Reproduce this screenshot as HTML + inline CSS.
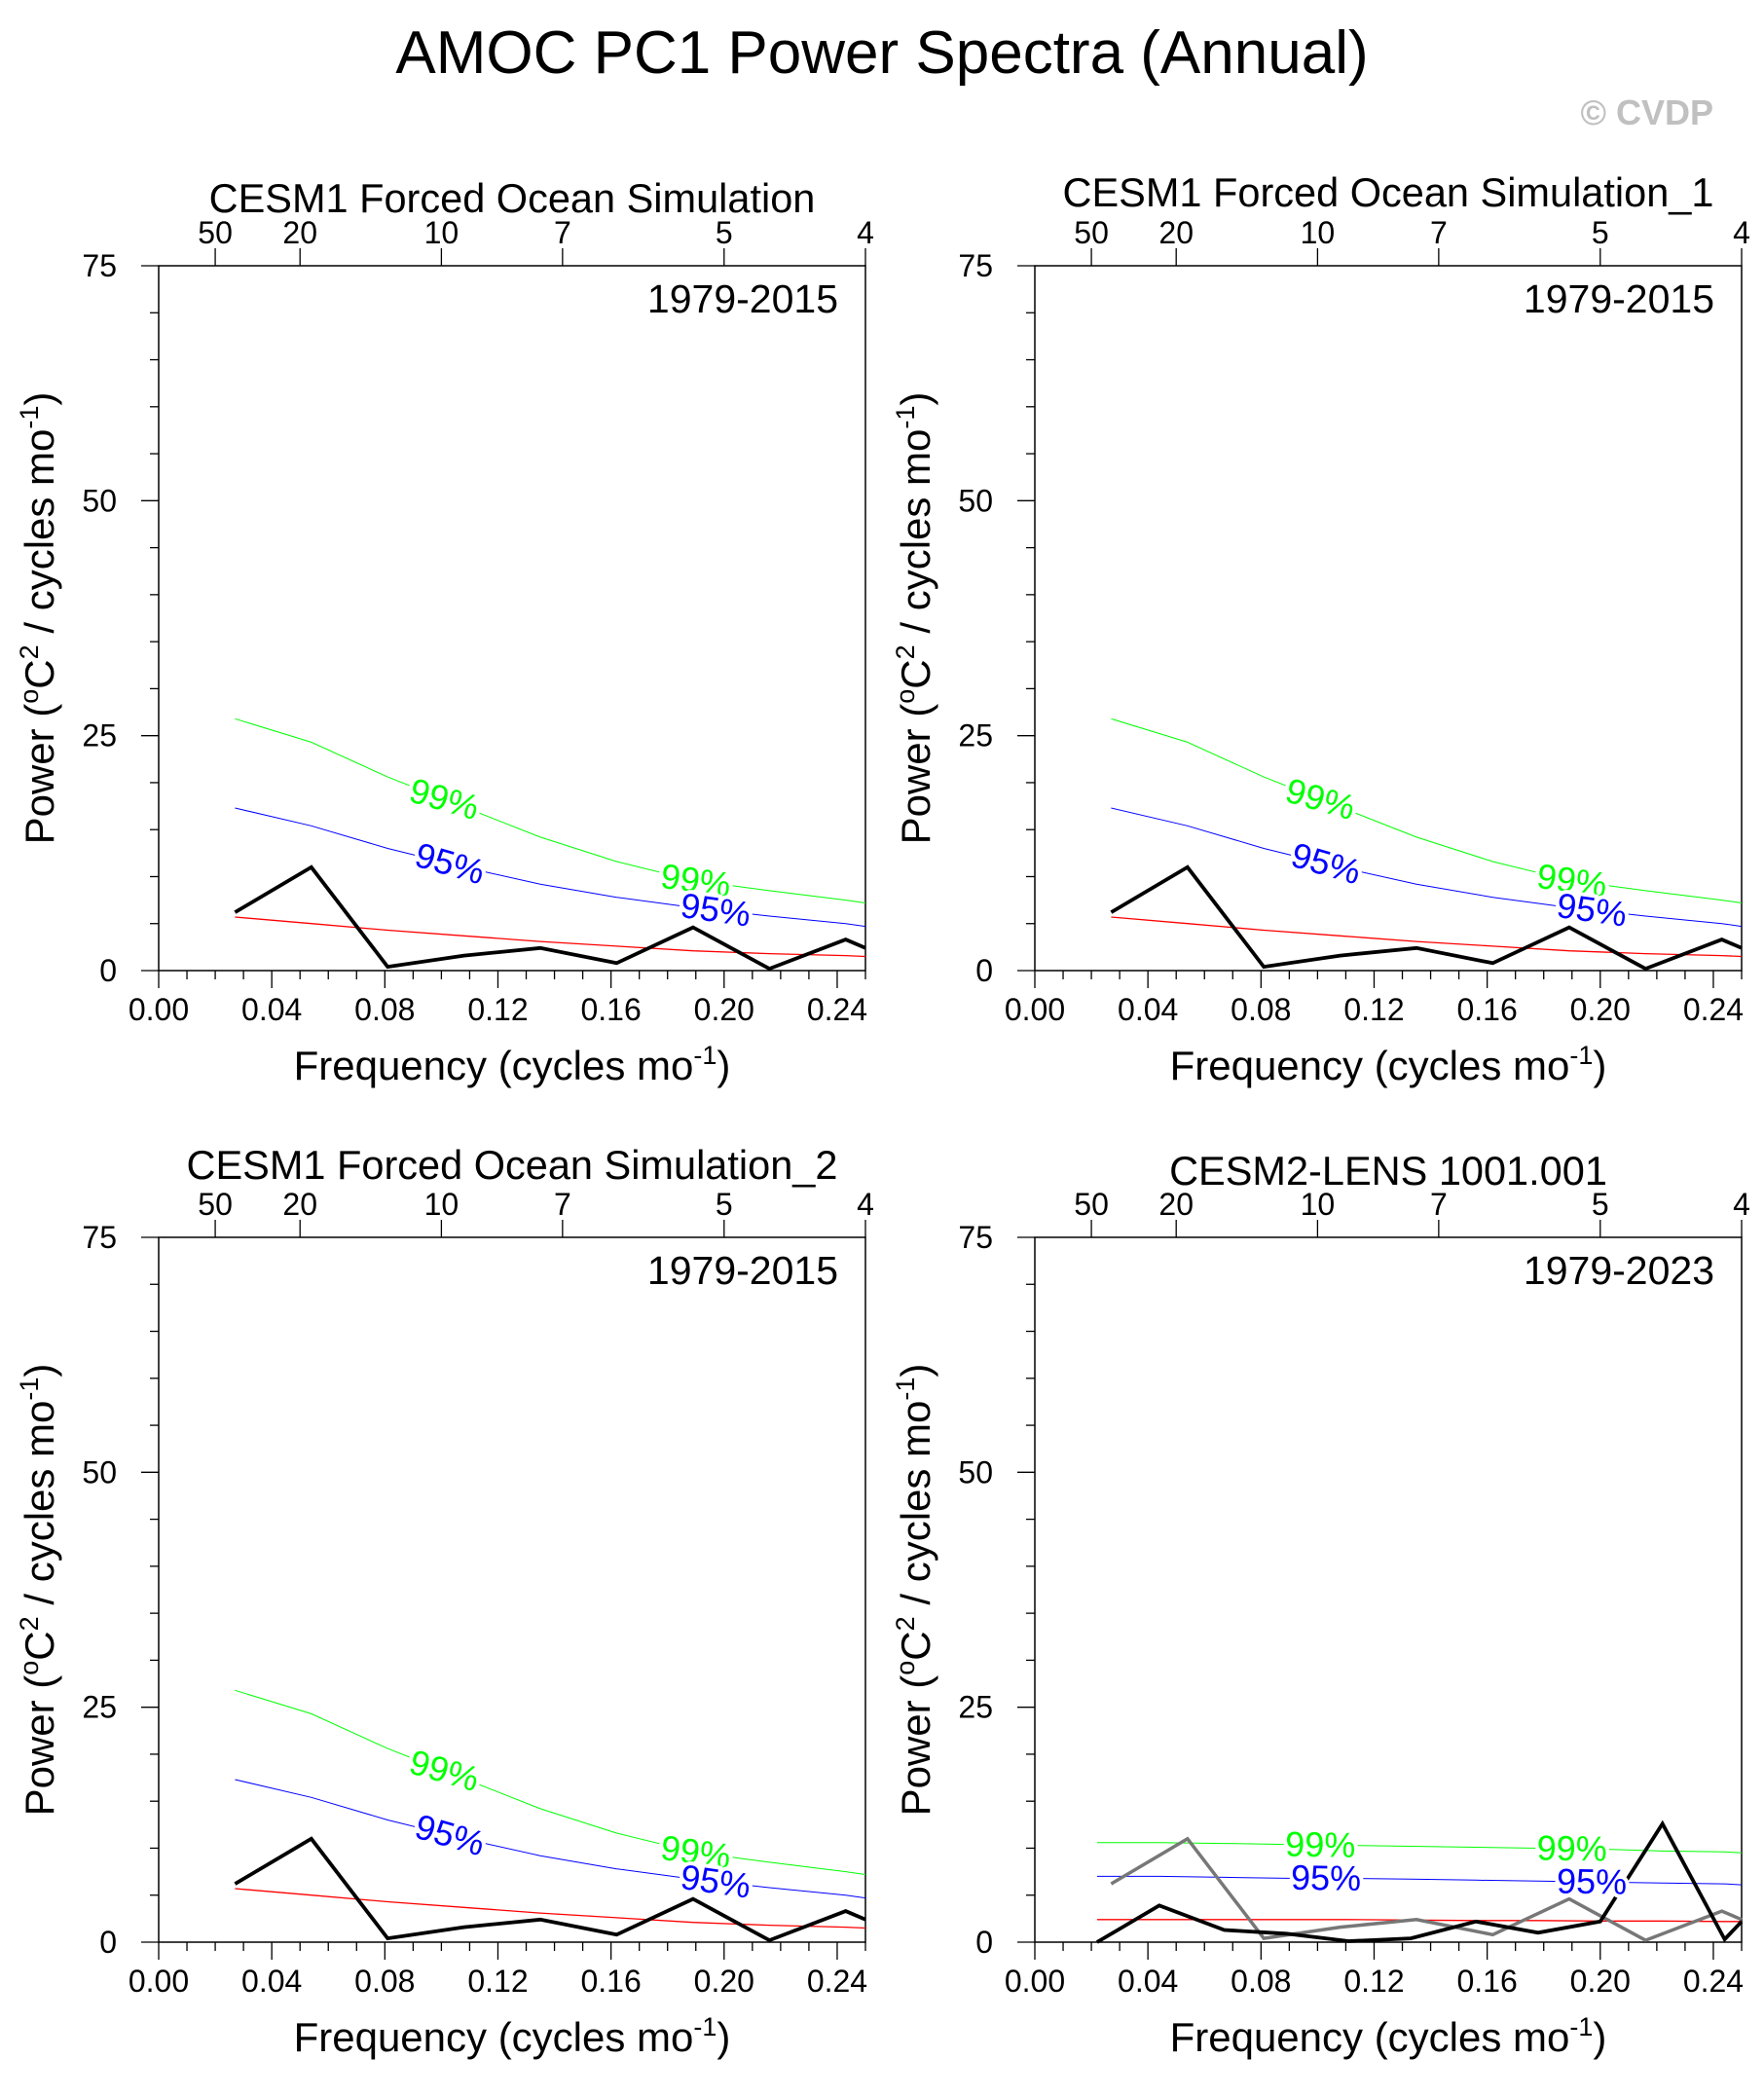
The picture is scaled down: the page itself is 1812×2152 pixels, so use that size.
<!DOCTYPE html>
<html><head><meta charset="utf-8"><style>
html,body{margin:0;padding:0;background:#fff}
svg text{font-family:"Liberation Sans",sans-serif}
</style></head><body>
<svg id="root" width="1812" height="2147" viewBox="0 0 1812 2147" xmlns="http://www.w3.org/2000/svg">
<text x="906" y="75" font-size="62" text-anchor="middle">AMOC PC1 Power Spectra (Annual)</text>
<text x="1760" y="128" font-size="36" font-weight="bold" fill="#c0c0c0" text-anchor="end">© CVDP</text>
</svg>
<script>
// ---- data ----
const freq37 = [0.027, 0.054, 0.081, 0.108, 0.135, 0.162, 0.189, 0.216, 0.243, 0.25];
const power37 = [6.2, 11.0, 0.4, 1.6, 2.4, 0.8, 4.6, 0.2, 3.3, 2.4];
const red37 = [5.7, 5.0, 4.3, 3.7, 3.1, 2.6, 2.1, 1.8, 1.6, 1.5];
const sig95_37 = [17.3, 15.4, 13.0, 11.0, 9.2, 7.8, 6.7, 5.8, 5.0, 4.7];
const sig99_37 = [26.8, 24.3, 20.6, 17.4, 14.2, 11.6, 9.6, 8.5, 7.5, 7.2];
const freq45 = [0.022, 0.044, 0.067, 0.089, 0.111, 0.133, 0.156, 0.178, 0.200, 0.222, 0.244, 0.25];
const power45 = [0.0, 3.9, 1.3, 0.9, 0.1, 0.4, 2.2, 1.0, 2.2, 12.6, 0.3, 2.2];
const red45 = [2.4, 2.4, 2.4, 2.4, 2.4, 2.35, 2.3, 2.3, 2.25, 2.25, 2.2, 2.2];
const sig95_45 = [7.0, 7.0, 6.9, 6.8, 6.8, 6.7, 6.6, 6.5, 6.4, 6.3, 6.2, 6.1];
const sig99_45 = [10.6, 10.6, 10.5, 10.4, 10.3, 10.2, 10.1, 10.0, 9.9, 9.7, 9.6, 9.5];
const xTicks = [0.00, 0.04, 0.08, 0.12, 0.16, 0.20, 0.24];
const yTicks = [0, 25, 50, 75];
const periodTicks = [50, 20, 10, 7, 5, 4];

const panels = [
 {name:'panel-cesm1', title:'CESM1 Forced Ocean Simulation', years:'1979-2015', x:163, y:273, ty:218, f:freq37, p:power37, r:red37, s95:sig95_37, s99:sig99_37, gray:null, rot:[16,8]},
 {name:'panel-cesm1-1', title:'CESM1 Forced Ocean Simulation_1', years:'1979-2015', x:1063, y:273, ty:212, f:freq37, p:power37, r:red37, s95:sig95_37, s99:sig99_37, gray:null, rot:[16,8]},
 {name:'panel-cesm1-2', title:'CESM1 Forced Ocean Simulation_2', years:'1979-2015', x:163, y:1271, ty:1211, f:freq37, p:power37, r:red37, s95:sig95_37, s99:sig99_37, gray:null, rot:[16,8]},
 {name:'panel-cesm2-lens', title:'CESM2-LENS 1001.001', years:'1979-2023', x:1063, y:1271, ty:1217, f:freq45, p:power45, r:red45, s95:sig95_45, s99:sig99_45, gray:true, rot:[1,1]}
];
const W = 726, H = 724, XMAX = 0.25, YMAX = 75;
const NS = 'http://www.w3.org/2000/svg';
const root = document.getElementById('root');
function mk(tag, attrs, parent, txt){
  const e = document.createElementNS(NS, tag);
  for (const k in attrs) e.setAttribute(k, attrs[k]);
  if (txt !== undefined) e.textContent = txt;
  parent.appendChild(e); return e;
}
function interp(fs, vs, f){
  for (let i=0;i<fs.length-1;i++){ if (f>=fs[i] && f<=fs[i+1]) return vs[i]+(vs[i+1]-vs[i])*(f-fs[i])/(fs[i+1]-fs[i]); }
  return vs[vs.length-1];
}
panels.forEach(P => {
  const g = mk('g', {}, root);
  
  
  const sx = f => P.x + f / XMAX * W;
  const sy = v => P.y + H - v / YMAX * H;
  const t = mk('text', {x:P.x + W/2, y:P.ty, 'font-size':41.5, 'text-anchor':'middle'}, g, P.title);
  
  
  const fr = mk('rect', {x:P.x, y:P.y, width:W, height:H, fill:'none', stroke:'#000', 'stroke-width':1.5}, g);
  
  
  for (let i=0;i<=25;i++){
    const f = i*0.01, major = (i%4===0);
    mk('line', {x1:sx(f), x2:sx(f), y1:P.y+H, y2:P.y+H+(major?18:9), stroke:'#000', 'stroke-width':1.3}, g);
  }
  xTicks.forEach(v => {
    const e = mk('text', {x:sx(v), y:P.y+H+51, 'font-size':32, 'text-anchor':'middle'}, g, v.toFixed(2));
    
    
  });
  for (let v=0; v<=75; v+=5){
    const major = (v%25===0);
    mk('line', {x1:P.x, x2:P.x-(major?18:9), y1:sy(v), y2:sy(v), stroke:'#000', 'stroke-width':1.3}, g);
  }
  yTicks.forEach(v => {
    const e = mk('text', {x:P.x-43, y:sy(v)+11, 'font-size':32, 'text-anchor':'end'}, g, String(v));
    
    
  });
  periodTicks.forEach(p => {
    const xx = sx(1/p);
    mk('line', {x1:xx, x2:xx, y1:P.y, y2:P.y-18, stroke:'#000', 'stroke-width':1.3}, g);
    const e = mk('text', {x:xx, y:P.y-23, 'font-size':32, 'text-anchor':'middle'}, g, String(p));
    
    
  });
  const xt = mk('text', {x:P.x+W/2, y:P.y+H+112, 'font-size':42, 'text-anchor':'middle'}, g);
  
  
  xt.innerHTML = 'Frequency (cycles mo<tspan dy="-16" font-size="27">-1</tspan><tspan dy="16">)</tspan>';
  const ytx = P.x - 108, yty = P.y + 362;
  const yt = mk('text', {x:ytx, y:yty, 'font-size':42, 'text-anchor':'middle', transform:`rotate(-90 ${ytx} ${yty})`}, g);
  
  
  yt.innerHTML = 'Power (<tspan dy="-16" font-size="27">o</tspan><tspan dy="16">C</tspan><tspan dy="-16" font-size="27">2</tspan><tspan dy="16"> / cycles mo</tspan><tspan dy="-16" font-size="27">-1</tspan><tspan dy="16">)</tspan>';
  const yl = mk('text', {x:P.x+W-28, y:P.y+48, 'font-size':41, 'text-anchor':'end'}, g, P.years);
  
  
  const pts = (fs, vs) => fs.map((f,i)=>sx(f).toFixed(1)+','+sy(vs[i]).toFixed(1)).join(' ');
  const l99 = mk('polyline', {points:pts(P.f, P.s99), fill:'none', stroke:'#00ff00', 'stroke-width':1}, g);
  
  
  const l95 = mk('polyline', {points:pts(P.f, P.s95), fill:'none', stroke:'#0000ff', 'stroke-width':1}, g);
  
  
  const lr = mk('polyline', {points:pts(P.f, P.r), fill:'none', stroke:'#ff0000', 'stroke-width':1.3}, g);
  
  
  if (P.gray){
    const lg = mk('polyline', {points:pts(freq37, power37), fill:'none', stroke:'#777', 'stroke-width':3.5}, g);
    
    
  }
  const lp = mk('polyline', {points:pts(P.f, P.p), fill:'none', stroke:'#000', 'stroke-width':3.8}, g);
  
  
  [[0.101,'99%','#00ff00',P.s99,P.rot[0]],[0.103,'95%','#0000ff',P.s95,P.rot[0]],[0.19,'99%','#00ff00',P.s99,P.rot[1]],[0.197,'95%','#0000ff',P.s95,P.rot[1]]].forEach(([f,s,c,arr,rot]) => {
    const xx = sx(f), yy = sy(interp(P.f, arr, f));
    const e = mk('text', {x:xx, y:yy+12, 'font-size':36, 'text-anchor':'middle', fill:c, stroke:'#fff', 'stroke-width':8, 'paint-order':'stroke', transform:`rotate(${rot} ${xx} ${yy})`}, g, s);
    
    
  });
});
</script>
</body></html>
